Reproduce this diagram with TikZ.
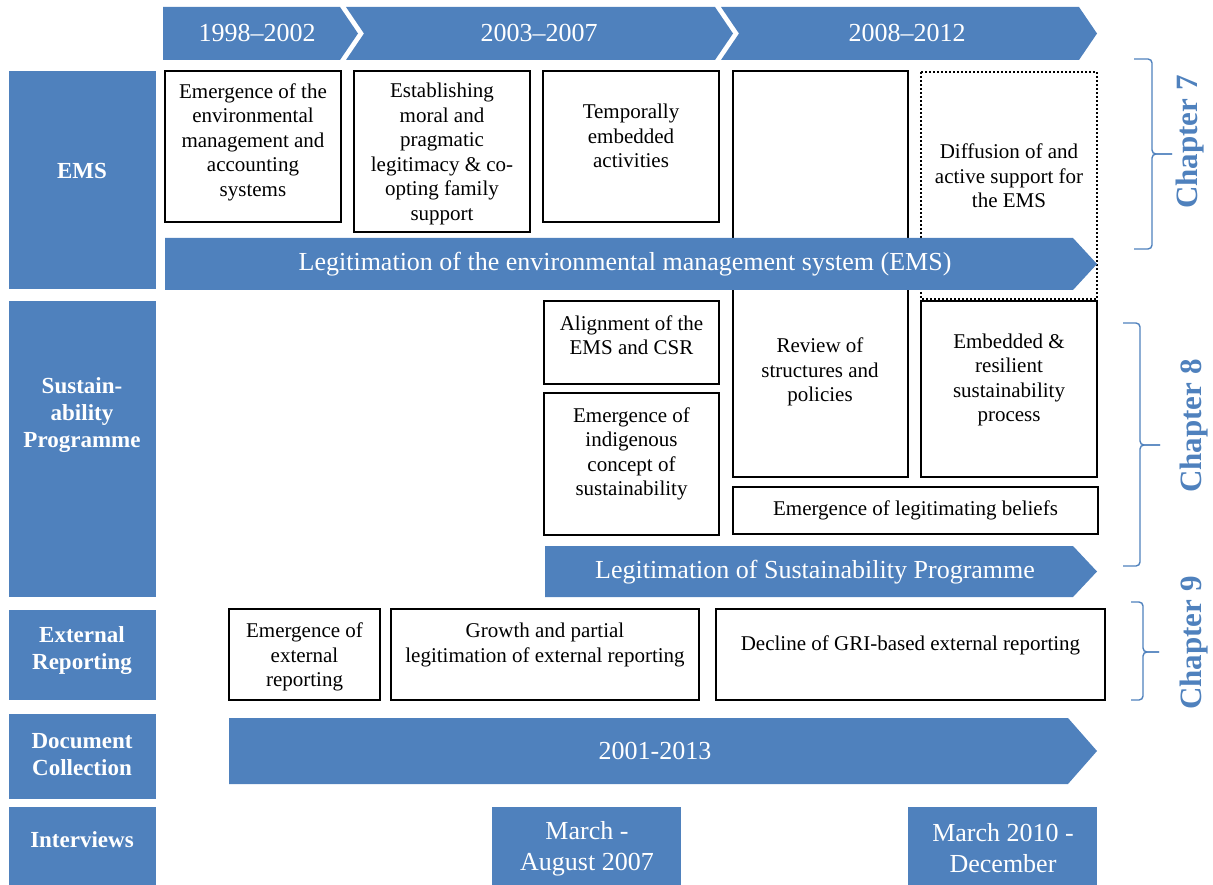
\documentclass[tikz,border=0pt]{standalone}
\usepackage{fontspec}
\setmainfont{Liberation Serif}
\definecolor{ablue}{HTML}{4F81BD}
\begin{document}
\begin{tikzpicture}[x=1pt,y=-1pt,
 boxline/.style={draw=black,line width=1.6pt},
 dotline/.style={draw=black,line width=2pt,dash pattern=on 2pt off 2pt},
 btext/.style={align=center,font=\fontsize{21}{24.5}\selectfont,inner sep=0pt},
 bluefill/.style={fill=ablue},
 wtext/.style={text=white,align=center,font=\fontsize{26}{31}\selectfont,inner sep=0pt},
 ltext/.style={text=white,align=center,font=\bfseries\fontsize{23}{27}\selectfont,inner sep=0pt},
 chap/.style={text=ablue,font=\bfseries\fontsize{31}{36}\selectfont,rotate=90,inner sep=0pt},
 brc/.style={draw=ablue,line width=1.4pt,rounded corners=4pt}
]
\useasboundingbox (0,0) rectangle (1213,885);
\clip (0,0) rectangle (1213,885);

% top chevrons
\fill[bluefill] (163,7) -- (340,7) -- (358,33.5) -- (340,60) -- (163,60) -- cycle;
\fill[bluefill] (346,7) -- (715,7) -- (733,33.5) -- (715,60) -- (346,60) -- (364,33.5) -- cycle;
\fill[bluefill] (721,7) -- (1079,7) -- (1097,33.5) -- (1079,60) -- (721,60) -- (739,33.5) -- cycle;
\node[wtext] (y1) at (257,33) {1998–2002};
\node[wtext] (y2) at (539,33) {2003–2007};
\node[wtext] (y3) at (907,33) {2008–2012};

% left column
\fill[bluefill] (9,71) rectangle (156,289);
\fill[bluefill] (9,301) rectangle (156,597);
\fill[bluefill] (9,610) rectangle (156,700);
\fill[bluefill] (9,714) rectangle (156,799);
\fill[bluefill] (9,807) rectangle (156,890);
\node[ltext] (lems) at (82,171) {EMS};
\node[ltext] (lsus) at (82,415) {Sustain-\\ability\\Programme};
\node[ltext] (lext) at (82,651) {External\\Reporting};
\node[ltext] (ldoc) at (82,755) {Document\\Collection};
\node[ltext] (lint) at (82,840) {Interviews};

% EMS row
\draw[boxline] (165,71) rectangle (341,222);
\node[btext] (b1) at (253,142) {Emergence of the\\environmental\\management and\\accounting\\systems};
\draw[boxline] (354,71) rectangle (530,232);
\node[btext] (b2) at (442,154) {Establishing\\moral and\\pragmatic\\legitimacy \& co-\\opting family\\support};
\draw[boxline] (543,71) rectangle (719,222);
\node[btext] (b3) at (631,136) {Temporally\\embedded\\activities};
\draw[boxline] (733,71) rectangle (908,477);
\node[btext] (b4) at (820,372) {Review of\\structures and\\policies};
\draw[dotline] (921,72) rectangle (1097,299);
\node[btext] (b5) at (1009,176) {Diffusion of and\\active support for\\the EMS};
\fill[bluefill] (165,238) -- (1073,238) -- (1097,264) -- (1073,290) -- (165,290) -- cycle;
\node[wtext] (aems) at (625,264) {Legitimation of the environmental management system (EMS)};

% Sustainability row
\draw[boxline] (544,301) rectangle (719,384);
\node[btext] (s1) at (631.5,335) {Alignment of the\\EMS and CSR};
\draw[boxline] (544,393) rectangle (719,535);
\node[btext] (s2) at (631.5,454) {Emergence of\\indigenous\\concept of\\sustainability};
\draw[boxline] (921,301) rectangle (1097,477);
\node[btext] (s3) at (1009,380) {Embedded \&\\resilient\\sustainability\\process};
\draw[boxline] (733,487) rectangle (1098,534);
\node[btext] (s4) at (915.5,510) {Emergence of legitimating beliefs};
\fill[bluefill] (545,546) -- (1073,546) -- (1097,571.5) -- (1073,597) -- (545,597) -- cycle;
\node[wtext] (asus) at (815,572) {Legitimation of Sustainability Programme};

% External reporting row
\draw[boxline] (229,609) rectangle (380,700);
\node[btext] (e1) at (304.5,657) {Emergence of\\external\\reporting};
\draw[boxline] (391,609) rectangle (699,700);
\node[btext] (e2) at (545,645) {Growth and partial\\legitimation of external reporting};
\draw[boxline] (716,609) rectangle (1105,700);
\node[btext] (e3) at (910.5,645) {Decline of GRI-based external reporting};

% Document collection
\fill[bluefill] (229,718) -- (1068,718) -- (1097,751) -- (1068,784) -- (229,784) -- cycle;
\node[wtext] (adoc) at (655,751) {2001-2013};

% Interviews
\fill[bluefill] (492,807) rectangle (681,890);
\node[wtext] (i1) at (587,848.5) {March -\\August 2007};
\fill[bluefill] (908,807) rectangle (1097,890);
\node[wtext] (i2) at (1003,848.5) {March 2010 -\\December};

% braces and chapters
\draw[brc] (1134,59) -- (1152,59) -- (1152,154) -- (1172,154);
\draw[brc] (1134,249) -- (1152,249) -- (1152,154) -- (1172,154);
\draw[brc] (1123,323) -- (1140,323) -- (1140,445) -- (1160,445);
\draw[brc] (1123,566) -- (1140,566) -- (1140,445) -- (1160,445);
\draw[brc] (1131,602) -- (1143,602) -- (1143,652) -- (1159,652);
\draw[brc] (1131,700) -- (1143,700) -- (1143,652) -- (1159,652);
\node[chap] (c7) at (1190,142) {Chapter 7};
\node[chap] (c8) at (1194,426) {Chapter 8};
\node[chap] (c9) at (1194,643) {Chapter 9};
\end{tikzpicture}
\end{document}
